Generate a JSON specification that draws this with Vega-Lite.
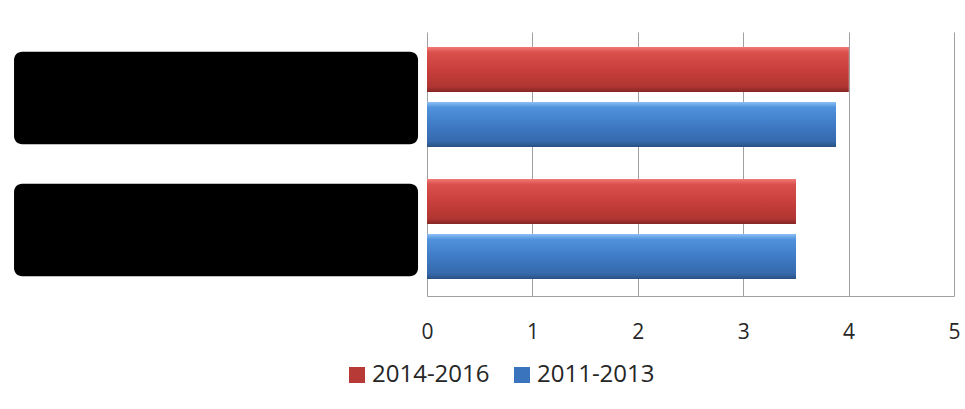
{
  "$schema": "https://vega.github.io/schema/vega-lite/v6.json",
  "width": 527,
  "height": 264,
  "autosize": {"type": "none"},
  "padding": {"left": 427, "top": 32, "right": 11, "bottom": 113},
  "background": "white",
  "config": {"view": {"stroke": null}, "font": "Open Sans"},
  "data": {
    "values": [
      {"group": "Category 1", "series": "2014-2016", "value": 4.0},
      {"group": "Category 1", "series": "2011-2013", "value": 3.88},
      {"group": "Category 2", "series": "2014-2016", "value": 3.5},
      {"group": "Category 2", "series": "2011-2013", "value": 3.5}
    ]
  },
  "encoding": {
    "y": {"field": "group", "type": "nominal", "axis": null, "scale": {"paddingInner": 0, "paddingOuter": 0}}
  },
  "layer": [
    {
      "transform": [{"filter": {"field": "series", "equal": "2014-2016"}}],
      "mark": {"type": "bar", "color": "black", "cornerRadius": 8, "height": {"band": 0.7}},
      "encoding": {
        "x": {"datum": -3.918, "type": "quantitative", "scale": {"domain": [0, 5]}},
        "x2": {"datum": -0.085}
      }
    },
    {
      "mark": {"type": "bar"},
      "encoding": {
        "yOffset": {"field": "series", "type": "nominal", "sort": ["2014-2016", "2011-2013"], "scale": {"paddingInner": 0.18, "paddingOuter": 0.29, "align": 0.47}},
        "x": {
          "field": "value",
          "type": "quantitative",
          "scale": {"domain": [0, 5]},
          "axis": {
            "values": [0, 1, 2, 3, 4, 5],
            "format": "d",
            "title": null,
            "grid": true,
            "gridColor": "#A0A0A0",
            "gridWidth": 1,
            "domain": true,
            "domainColor": "#A0A0A0",
            "ticks": false,
            "labelFlush": false,
            "labelOverlap": false,
            "labelFont": "Open Sans",
            "labelFontSize": 21,
            "labelColor": "#262626",
            "labelPadding": 25
          }
        },
        "color": {
          "field": "series",
          "type": "nominal",
          "sort": ["2014-2016", "2011-2013"],
          "scale": {"domain": ["2014-2016", "2011-2013"], "range": ["#B83A37", "#3A74BC"]},
          "legend": {
            "orient": "none",
            "legendX": -82,
            "legendY": 331,
            "direction": "horizontal",
            "title": null,
            "symbolType": "square",
            "symbolSize": 256,
            "symbolStrokeWidth": 0,
            "labelFont": "Open Sans",
            "labelFontSize": 24,
            "labelColor": "#262626",
            "labelOffset": 3,
            "columnPadding": 20
          }
        }
      }
    },
    {
      "mark": {"type": "bar"},
      "encoding": {
        "yOffset": {"field": "series", "type": "nominal", "sort": ["2014-2016", "2011-2013"]},
        "x": {"field": "value", "type": "quantitative", "scale": {"domain": [0, 5]}},
        "fill": {
          "condition": {
            "test": "datum.series === '2014-2016'",
            "value": {"gradient": "linear", "x1": 0, "y1": 0, "x2": 0, "y2": 1, "stops": [
              {"offset": 0, "color": "#F47A76"},
              {"offset": 0.12, "color": "#D9504C"},
              {"offset": 0.5, "color": "#C83F3C"},
              {"offset": 0.88, "color": "#B03532"},
              {"offset": 1, "color": "#832624"}
            ]}
          },
          "value": {"gradient": "linear", "x1": 0, "y1": 0, "x2": 0, "y2": 1, "stops": [
            {"offset": 0, "color": "#8BC0F5"},
            {"offset": 0.12, "color": "#5092DD"},
            {"offset": 0.5, "color": "#3F7BC6"},
            {"offset": 0.88, "color": "#3669AC"},
            {"offset": 1, "color": "#27507F"}
          ]}
        }
      }
    }
  ]
}
